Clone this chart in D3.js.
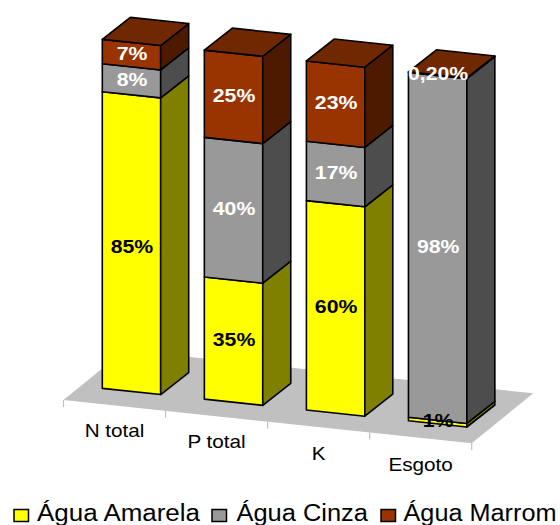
<!DOCTYPE html>
<html><head><meta charset="utf-8">
<script src="https://cdn.jsdelivr.net/npm/d3@7/dist/d3.min.js"></script>
<style>html,body{margin:0;padding:0;background:#fff}svg{display:block}text{font-family:"Liberation Sans",Arial,sans-serif}</style>
</head><body><div id="c"></div>
<script>
const categories = ["N total","P total","K","Esgoto"];
const seriesNames = ["Água Amarela","Água Cinza","Água Marrom"];
const amarela = [85,35,60,1];
const cinza = [8,40,17,98];
const marrom = [7,25,23,0.2];
const labelsAmarela = ["85%","35%","60%","1%"];
const labelsCinza = ["8%","40%","17%","98%"];
const labelsMarrom = ["7%","25%","23%","0,20%"];
const frontColors = ["#ffff00","#999999","#993300"];
const sideColors = ["#808000","#4d4d4d","#4d1a00"];
const topColor = "#702800";
const labelColors = [["#000","#000","#000","#000"],["#fff","#fff","#fff","#fff"],["#fff","#fff","#fff","#fff"]];

const W=560,H=525;
const svg=d3.select("#c").append("svg").attr("width",W).attr("height",H);
const rows=categories.map((c,i)=>({cat:c,s0:amarela[i],s1:cinza[i],s2:marrom[i]}));
const stacked=d3.stack().keys(["s0","s1","s2"]).offset(d3.stackOffsetExpand)(rows);
const labels=[labelsAmarela,labelsCinza,labelsMarrom];

// horizontally stretched text, as in the original rendering
const stretched=(parent,px,py,sx,anchor)=>parent.append("text")
  .attr("transform",`translate(${px},${py}) scale(${sx},1)`).attr("text-anchor",anchor);

// oblique projection
const x=d3.scaleBand().domain(categories).range([63.5,471.7]);
const floorY=d3.scaleLinear().domain([63.5,471.7]).range([400,443.3]);
const h=d3.scaleLinear().domain([0,1]).range([0,349]);
const floorDepth=[61.5,-50], barDepth=[28,-22];
const barW=58.4, barInset=[38.8-22,-14];
const proj=(cat,u,v,d)=>{
  const px=x(cat)+barInset[0]+22+u*barW;
  const py=floorY(px-barInset[0])+barInset[1]-h(v);
  return [px+d*barDepth[0],py+d*barDepth[1]];
};
const line=d3.line();
const poly=p=>line(p)+"Z";

// floor
const f0=[x.range()[0],floorY(x.range()[0])],f1=[x.range()[1],floorY(x.range()[1])];
svg.append("path").attr("fill","#c0c0c0").attr("d",poly([f0,f1,
  [f1[0]+floorDepth[0],f1[1]+floorDepth[1]],[f0[0]+floorDepth[0],f0[1]+floorDepth[1]]]));
// ticks
const edges=categories.map(c=>x(c)).concat([x.range()[1]]);
svg.selectAll("line.t").data(edges).join("line").attr("class","t")
  .attr("x1",d=>d).attr("x2",d=>d).attr("y1",d=>floorY(d)).attr("y2",d=>floorY(d)+7)
  .attr("stroke","#c0c0c0").attr("stroke-width",1.2);
// category labels
const catY=d3.scalePoint().domain(categories).range([437,471]);
categories.forEach(c=>{
  stretched(svg,x(c)+x.bandwidth()/2,catY(c),1.15,"middle")
    .attr("font-size",18).attr("fill","#000").text(c);
});

// bars
const g=svg.append("g").attr("stroke","#000").attr("stroke-width",1.6).attr("stroke-linejoin","round");
categories.forEach((c,i)=>{
  stacked.forEach((s,k)=>{
    const [a,b]=s[i];
    g.append("path").attr("fill",frontColors[k]).attr("d",poly([proj(c,0,a,0),proj(c,1,a,0),proj(c,1,b,0),proj(c,0,b,0)]));
    g.append("path").attr("fill",sideColors[k]).attr("d",poly([proj(c,1,a,0),proj(c,1,a,1),proj(c,1,b,1),proj(c,1,b,0)]));
  });
  g.append("path").attr("fill",topColor).attr("d",poly([proj(c,0,1,0),proj(c,1,1,0),proj(c,1,1,1),proj(c,0,1,1)]));
});
// value labels
stacked.forEach((s,k)=>categories.forEach((c,i)=>{
  const [a,b]=s[i];
  const p=proj(c,0.5,(a+b)/2,0);
  const nudge=(k===0&&i===0)?5:0;
  stretched(svg,p[0]+0.5,p[1]+5+nudge,1.18,"middle")
    .attr("font-size",18).attr("font-weight","bold").attr("fill",labelColors[k][i]).text(labels[k][i]);
}));
// legend
const legendBox=[14,212,381];
const legendTextX=[37,236.5,403.5];
const legendTextW=[163,131.5,153];
seriesNames.forEach((n,k)=>{
  const lx=legendBox[k];
  svg.append("rect").attr("x",lx).attr("y",509.5).attr("width",14.5).attr("height",12)
    .attr("fill",frontColors[k]).attr("stroke","#000").attr("stroke-width",1.5);
  svg.append("text").attr("x",legendTextX[k]).attr("y",521).attr("font-size",23).attr("fill","#000")
    .attr("textLength",legendTextW[k]).attr("lengthAdjust","spacingAndGlyphs").text(n);
});
</script></body></html>
